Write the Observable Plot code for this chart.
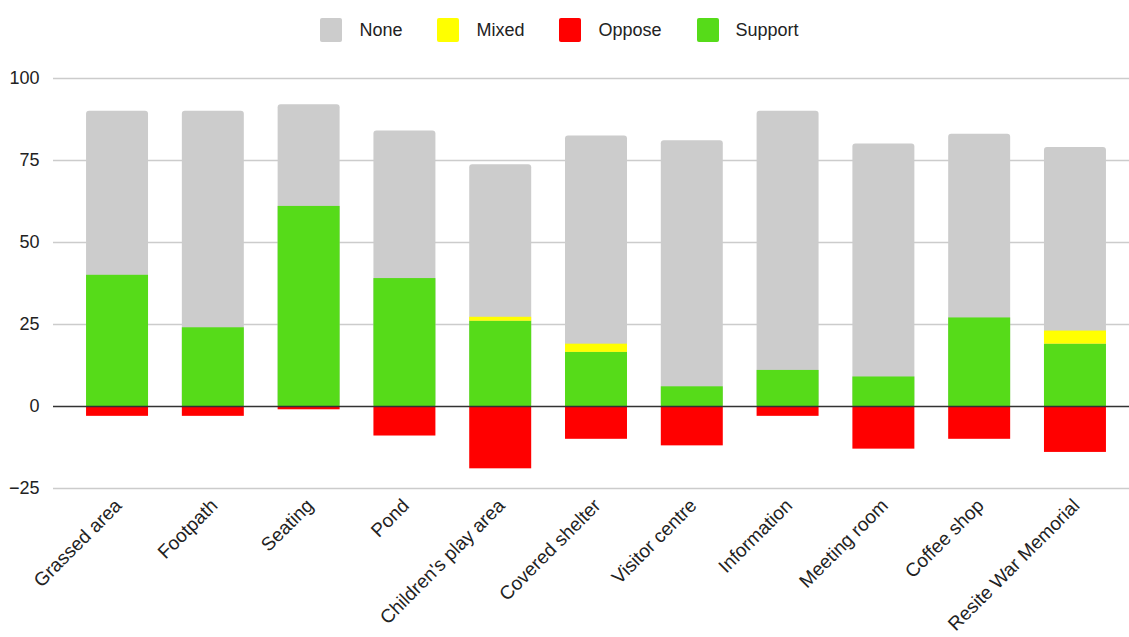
<!DOCTYPE html>
<html>
<head>
<meta charset="utf-8">
<script src="https://cdn.jsdelivr.net/npm/d3@7"></script>
<script src="https://cdn.jsdelivr.net/npm/@observablehq/plot@0.6"></script>
<style>
  html, body { margin: 0; padding: 0; background: #fff; }
  body { width: 1129px; height: 637px; overflow: hidden; font-family: "Liberation Sans", Arial, sans-serif; }
  #legend { height: 60px; display: flex; justify-content: center; align-items: center; padding-right: 10px; box-sizing: border-box; font-size: 18px; color: #222; }
  .item { display: flex; align-items: center; margin: 0 17.5px; }
  .sw { width: 22px; height: 24px; border-radius: 2px; margin-right: 17px; }
</style>
</head>
<body>
<div id="legend"></div>
<div id="chart"></div>
<script>
const categories = ["Grassed area", "Footpath", "Seating", "Pond", "Children's play area", "Covered shelter", "Visitor centre", "Information", "Meeting room", "Coffee shop", "Resite War Memorial"];
const support = [40, 24, 61, 39, 26, 16.5, 6, 11, 9, 27, 19];
const mixed   = [0, 0, 0, 0, 1.2, 2.5, 0, 0, 0, 0, 4];
const none    = [50, 66, 31, 45, 46.5, 63.5, 75, 79, 71, 56, 56];
const oppose  = [3, 3, 1, 9, 19, 10, 12, 3, 13, 10, 14];
const yTicks = [-25, 0, 25, 50, 75, 100];

const seriesNames = ["None", "Mixed", "Oppose", "Support"];
const seriesColors = ["#cccccc", "#ffff00", "#ff0000", "#56db19"];

const legend = document.getElementById("legend");
seriesNames.forEach((n, i) => {
  const it = document.createElement("div");
  it.className = "item";
  it.innerHTML = `<div class="sw" style="background:${seriesColors[i]}"></div><span>${n}</span>`;
  legend.appendChild(it);
});

const rows = categories.map((c, i) => ({
  cat: c,
  s: support[i],
  m: mixed[i],
  n: none[i],
  o: oppose[i]
}));

const chart = Plot.plot({
  width: 1129,
  height: 577,
  marginTop: 18,
  marginBottom: 149,
  marginLeft: 53,
  marginRight: 0,
  style: { fontFamily: "Liberation Sans, Arial, sans-serif", fontSize: "18px", color: "#222", background: "#fff" },
  x: { domain: categories, range: [53, 1139], paddingInner: 0.353, paddingOuter: 0.345, round: false, label: null },
  y: { domain: [-25, 100], label: null },
  marks: [
    Plot.ruleY(yTicks.filter(d => d !== 0), { stroke: "#cccccc", strokeWidth: 1.5 }),
    Plot.barY(rows, { x: "cat", y1: 0, y2: d => d.s + d.m + d.n, fill: seriesColors[0], rx: 3 }),
    Plot.barY(rows, { x: "cat", y1: 0, y2: "s", fill: seriesColors[3] }),
    Plot.barY(rows.filter(d => d.m > 0), { x: "cat", y1: "s", y2: d => d.s + d.m, fill: seriesColors[1] }),
    Plot.barY(rows, { x: "cat", y1: d => -d.o, y2: 0, fill: seriesColors[2] }),
    Plot.ruleY([0], { stroke: "#333", strokeWidth: 1.5 }),
    Plot.axisY({ ticks: yTicks, tickSize: 0, tickPadding: 14, fontSize: 18, label: null }),
    Plot.axisX({ tickSize: 0, tickPadding: 14, dx: 1, tickRotate: -45, fontSize: 19, label: null })
  ]
});
document.getElementById("chart").appendChild(chart);
</script>
</body>
</html>
